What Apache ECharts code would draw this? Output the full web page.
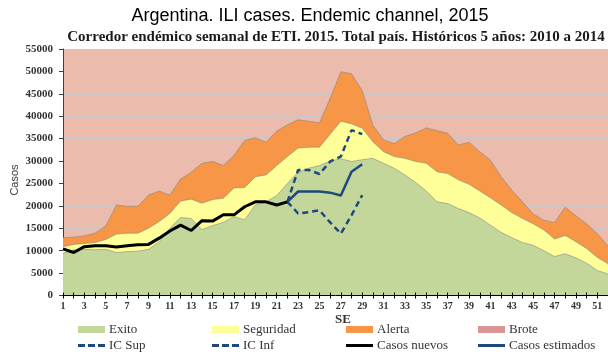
<!DOCTYPE html>
<html>
<head>
<meta charset="utf-8">
<script src="https://cdn.jsdelivr.net/npm/echarts@6/dist/echarts.min.js"></script>
<style>
  html, body { margin: 0; padding: 0; background: #ffffff; }
  #chart { width: 608px; height: 355px; }
</style>
</head>
<body>
<div id="chart"></div>
<script>
// Epidemiological weeks (SE) 1..52
const weeks = ['1','2','3','4','5','6','7','8','9','10','11','12','13','14','15','16','17','18','19','20',
  '21','22','23','24','25','26','27','28','29','30','31','32','33','34','35','36','37','38','39','40',
  '41','42','43','44','45','46','47','48','49','50','51','52'];

// Upper limit of each zone of the endemic channel (cases per week)
const exito = [9400,10200,10300,10200,10300,9600,9800,9900,10300,12000,
  15000,17400,17200,14700,15600,16300,17600,16900,20200,20900,
  22300,25000,27500,28400,29000,30000,30500,29900,30300,30600,
  29500,28400,26900,25200,23300,20900,20500,19400,18500,17300,
  15700,14100,12900,11800,11200,10000,8700,9300,8400,7200,
  5600,4800];
const seguridad = [10900,11400,11600,11800,12500,13700,13900,13900,15000,16500,
  18300,21100,21500,20600,21400,21700,24000,24100,26500,26900,
  29000,31000,32900,33100,33100,36000,38900,38300,37300,34300,
  32100,31000,30600,29900,29500,27600,27200,25800,24800,23300,
  21800,20200,18500,17200,16000,14600,12600,13400,12000,10500,
  8500,7100];
const alerta = [12900,13000,13300,13900,15500,20200,19900,19900,22400,23300,
  22400,26000,27500,29500,29900,29000,31300,34600,35200,34200,
  36700,38100,39200,38900,38500,44000,49900,49500,45700,38000,
  34700,33900,35500,36300,37400,36800,36200,33600,34200,32100,
  30200,26500,23500,20900,18200,16800,16300,19700,17800,16000,
  13800,11000];

// 2015 reported cases, from week 1
const nuevosDesde = 1;
const casosNuevos = [10400,9600,10900,11100,11100,10800,11100,11300,11400,12800,
  14400,15700,14500,16700,16600,18000,18000,19800,20900,20900,
  20200,20900];

// Estimated cases and confidence interval, from week 22
const estimadosDesde = 22;
const casosEstimados = [20900,23200,23200,23200,22950,22300,27600,29300];
const icSup = [20900,28000,28000,27100,29900,31000,36900,36000];
const icInf = [20900,18300,18600,19000,16300,13800,17900,22400];

const yTicks = { min: 0, max: 55000, interval: 5000 };

function alinear(valores, desde) {
  return weeks.map((w, i) => {
    const k = i - (desde - 1);
    return (k >= 0 && k < valores.length) ? valores[k] : null;
  });
}

const serif = 'Liberation Serif';
const sans = 'Liberation Sans';
const azul = '#1f497d';

// Legend glyphs: filled swatch, solid stroke, dashed stroke
const iconoZona = 'rect';
const iconoLinea = 'rect';
const iconoGuiones = 'path://M0,0h7v3h-7zM10,0h7v3h-7zM20,0h7v3h-7z';

const chart = echarts.init(document.getElementById('chart'), null, { renderer: 'canvas' });

function zona(name, data, color) {
  return {
    name, type: 'line', data, symbol: 'none', z: 3,
    itemStyle: { color },
    lineStyle: { color: 'rgba(130,130,130,0.55)', width: 1 },
    areaStyle: { color, opacity: 1 }
  };
}

function leyenda(name, left, top, icon, h) {
  return {
    data: [{ name, icon }], left, top, itemWidth: 27, itemHeight: h, padding: 0,
    selectedMode: false, itemGap: 4,
    textStyle: { fontFamily: serif, fontSize: 13, color: '#333333', padding: [0, 0, 0, -1] }
  };
}

chart.setOption({
  animation: false,
  backgroundColor: '#ffffff',
  title: [
    { text: 'Argentina. ILI cases. Endemic channel, 2015', left: 305, top: 2, textAlign: 'center',
      textStyle: { fontFamily: "'Liberation Sans Narrow', 'Liberation Sans'", fontSize: 18, fontWeight: 'normal', color: '#000000' } },
    { text: 'Corredor endémico semanal de ETI. 2015. Total país. Históricos 5 años: 2010 a 2014', left: 331, top: 25,
      textAlign: 'center',
      textStyle: { fontFamily: serif, fontSize: 15, fontWeight: 'bold', color: '#1a1a1a' } }
  ],
  grid: { left: 63, right: -2, top: 49, bottom: 59.5, show: true, backgroundColor: '#ebbcae', borderWidth: 0 },
  legend: [
    leyenda('Exito', 78, 323, iconoZona, 7),
    leyenda('Seguridad', 212, 323, iconoZona, 7),
    leyenda('Alerta', 346, 323, iconoZona, 7),
    leyenda('Brote', 478, 323, iconoZona, 7),
    leyenda('IC Sup', 78, 339, iconoGuiones, 3),
    leyenda('IC Inf', 212, 339, iconoGuiones, 3),
    leyenda('Casos nuevos', 346, 339, iconoLinea, 3),
    leyenda('Casos estimados', 478, 339, iconoLinea, 3)
  ],
  xAxis: [
    {
      type: 'category', data: weeks, boundaryGap: false, z: 6,
      axisLine: { lineStyle: { color: '#000000', width: 1 } },
      axisTick: { show: true, interval: 0, length: 3, lineStyle: { color: '#000000' } },
      axisLabel: { interval: 1, margin: 6, fontFamily: serif, fontWeight: 'bold', fontSize: 10, color: '#333333' },
      splitLine: { show: false }
    },
    {
      type: 'category', data: weeks, boundaryGap: false, position: 'bottom', z: 6,
      axisLine: { show: false },
      axisTick: { show: true, inside: true, interval: 0, length: 3, lineStyle: { color: '#000000' } },
      axisLabel: { show: false },
      splitLine: { show: false }
    }
  ],
  yAxis: {
    type: 'value', min: yTicks.min, max: yTicks.max, interval: yTicks.interval,
    axisLine: { show: true, lineStyle: { color: '#404040', width: 1 } },
    axisTick: { show: true, length: 4, lineStyle: { color: '#404040' } },
    axisLabel: { margin: 10, fontFamily: serif, fontWeight: 'bold', fontSize: 11, color: '#333333',
      formatter: v => String(v) },
    splitLine: { show: true, lineStyle: { color: '#c8c8c8', width: 1 } }
  },
  graphic: [
    { type: 'text', x: 15, y: 180, rotation: Math.PI / 2,
      style: { text: 'Casos', fontFamily: sans, fontSize: 11, fill: '#404040', align: 'center', verticalAlign: 'middle' } },
    { type: 'text', x: 343, y: 320,
      style: { text: 'SE', fontFamily: serif, fontSize: 13, fontWeight: 'bold', fill: '#333333', align: 'center', verticalAlign: 'middle' } }
  ],
  series: [
    { name: 'Brote', type: 'line', data: [], itemStyle: { color: '#da9694' }, lineStyle: { color: '#da9694' } },
    zona('Alerta', alerta, '#f79646'),
    zona('Seguridad', seguridad, '#ffff99'),
    zona('Exito', exito, '#c4d79b'),
    { name: 'IC Sup', type: 'line', data: alinear(icSup, estimadosDesde), symbol: 'none', z: 5,
      itemStyle: { color: azul }, lineStyle: { color: azul, width: 2.5, type: [6, 4] } },
    { name: 'IC Inf', type: 'line', data: alinear(icInf, estimadosDesde), symbol: 'none', z: 5,
      itemStyle: { color: azul }, lineStyle: { color: azul, width: 2.5, type: [6, 4] } },
    { name: 'Casos nuevos', type: 'line', data: alinear(casosNuevos, nuevosDesde), symbol: 'none', z: 5,
      itemStyle: { color: '#000000' }, lineStyle: { color: '#000000', width: 3 } },
    { name: 'Casos estimados', type: 'line', data: alinear(casosEstimados, estimadosDesde), symbol: 'none', z: 5,
      itemStyle: { color: azul }, lineStyle: { color: azul, width: 2.5 } }
  ]
});
</script>
</body>
</html>
